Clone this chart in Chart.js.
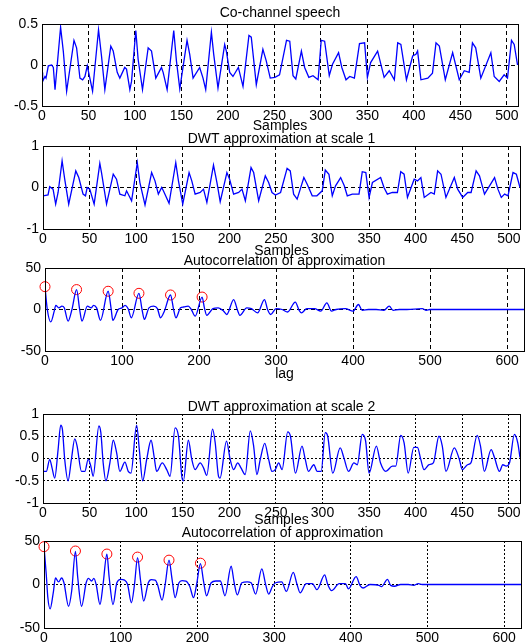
<!DOCTYPE html>
<html><head><meta charset="utf-8">
<script src="https://cdn.jsdelivr.net/npm/chart.js@4.4.1/dist/chart.umd.min.js"></script>
<style>
html,body{margin:0;padding:0;background:#fff;width:531px;height:642px;overflow:hidden;position:relative}
canvas{position:absolute;left:0}
</style></head><body>
<canvas id="c1"></canvas><canvas id="c2"></canvas><canvas id="c3"></canvas><canvas id="c4"></canvas><canvas id="c5"></canvas>
<script>
// ---------- data ----------
const titles = ['Co-channel speech','DWT approximation at scale 1','Autocorrelation of approximation','DWT approximation at scale 2','Autocorrelation of approximation'];
const xLabels = ['Samples','Samples','lag','Samples',''];
const sampleTicks = [0,50,100,150,200,250,300,350,400,450,500];
const lagTicks = [0,100,200,300,400,500,600];
const speechYTicks = [-0.5,0,0.5];
const approx1YTicks = [-1,0,1];
const approx2YTicks = [-1,-0.5,0,0.5,1];
const corrYTicks = [-50,0,50];

// [sample, value]
const speech = [[0,-0.09],[0.7,-0.2],[3.2,-0.14],[4.3,-0.16],[6.8,-0.01],[10.4,0],[12.2,-0.03],[14,-0.3],[20,0.46],[22.9,0.17],
[26.5,-0.32],[34.4,0.3],[37.2,0.21],[40.8,-0.16],[43.7,-0.18],[46.2,-0.14],[48.7,-0.01],[54.4,-0.32],[60.8,0.43],[64,0.11],
[67.6,-0.3],[74,0.23],[76.6,0.17],[80.9,-0.09],[83.7,-0.16],[89,-0.03],[90.9,-0.05],[94.5,-0.3],[96.3,-0.2],[100.9,0.42],
[103.4,0.07],[108.1,-0.3],[114.2,0.21],[117.8,0.17],[122.4,-0.16],[128.5,-0.03],[130.3,-0.09],[134.6,-0.3],[141.7,0.42],[144.6,0.05],
[148.2,-0.29],[156,0.3],[158.9,0.13],[162.5,-0.16],[169.6,-0.03],[173.2,-0.16],[176.1,-0.3],[182.2,0.4],[184.7,0.13],[189.3,-0.28],
[196.5,0.25],[198.3,0.17],[201.9,-0.09],[205.4,-0.14],[211.2,-0.03],[216.2,-0.26],[222.6,0.36],[225.1,0.34],[230.5,-0.24],[237.6,0.19],
[241.2,0.05],[245.5,-0.16],[250.5,-0.15],[255.5,-0.12],[263,0.3],[266.5,0.29],[270,-0.13],[273,-0.17],[279,0.17],[282.5,-0.03],
[287,-0.15],[291.5,-0.13],[297,-0.18],[300.3,0.3],[304,0.29],[309,-0.13],[312.5,0.01],[319,0.15],[322.5,-0.03],[327,-0.18],
[331,-0.14],[336,-0.16],[341.5,0.26],[347,0.27],[350,-0.15],[353.5,0.03],[361,0.17],[368,-0.15],[373.5,-0.07],[379,-0.18],
[382.6,0.27],[386,0.25],[392,-0.18],[398.7,0.11],[402.2,0.13],[404,0.17],[407.6,-0.18],[415,-0.16],[420,-0.1],[423.8,0.27],
[427.4,0.23],[433.8,-0.18],[441.7,0.15],[448.8,-0.18],[454.2,-0.07],[459.5,-0.09],[463,0.27],[466.5,0.21],[472,-0.16],[482.8,0.15],
[486.4,-0.14],[491.8,-0.2],[497.1,-0.12],[500.7,-0.16],[505,0.3],[507.9,0.25],[511.5,0]];

const approx1 = [[0,-0.2],[5.4,-0.18],[7.2,0.02],[10.8,-0.04],[13.6,-0.4],[16.2,-0.12],[20.5,0.64],[23.3,0.2],[27.6,-0.4],[35.2,0.4],
[38.4,0.24],[43,-0.16],[45.6,-0.2],[47.4,0],[50.2,-0.04],[54.9,-0.4],[61,0.58],[62.8,0.36],[68.2,-0.4],[75.4,0.32],
[78.9,0.2],[82.5,-0.16],[87.9,-0.2],[89.7,-0.08],[95.1,-0.32],[101.2,0.6],[104,0.12],[109.5,-0.42],[116.6,0.36],[120.2,0.16],
[123.8,-0.16],[127.4,0],[129.2,-0.08],[135.3,-0.38],[142.5,0.6],[145.4,0.16],[150,-0.4],[156.8,0.36],[159.7,0.16],[163.3,-0.16],
[168.7,-0.12],[172.3,-0.04],[175.9,-0.36],[183,0.54],[186.7,0.12],[190.2,-0.34],[197.4,0.36],[200.3,0.2],[204.6,-0.16],[210,-0.12],
[213.6,-0.04],[217.2,-0.32],[223.3,0.48],[226.1,0.36],[231.5,-0.32],[238.6,0.28],[242.2,0.12],[245.8,-0.12],[249.5,-0.18],[255,-0.12],
[262,0.46],[265.4,0.4],[269,-0.16],[272.8,-0.28],[280,0.24],[283.6,0.08],[289,-0.2],[294,-0.2],[299.7,-0.08],[303,0.42],
[306.9,0.32],[310.5,-0.2],[314,0.04],[319.5,0.24],[323.4,0.04],[326.6,-0.2],[332,-0.16],[339.2,-0.16],[342.7,0.38],[346.5,0.36],
[350,-0.24],[353.6,0.12],[362.4,0.24],[366,0],[369.6,-0.16],[375,-0.12],[380.4,-0.12],[384,0.38],[387.6,0.32],[391.2,-0.24],
[398.4,0.2],[402,0.16],[405.6,0.24],[409.2,-0.24],[416.4,-0.12],[420,-0.16],[423.6,0.4],[427.2,0.32],[432.5,-0.24],[441.5,0.24],
[445.1,-0.04],[450.5,-0.24],[455.9,-0.12],[459.5,-0.12],[464.9,0.4],[468.5,0.28],[473.9,-0.16],[484.7,0.24],[488.3,-0.04],[491.9,-0.24],
[495.5,-0.16],[499.1,-0.2],[504.5,0.36],[508.1,0.32],[512,0]];

const corr1 = [[0,27.5],[3,0],[7.5,-15],[12,-2],[14,5],[18,2],[22,4],[25,2],[30,-14],[35,0],
[41,24],[45,0],[48,-14],[55,4],[60,2],[63,5],[67,2],[72,-13],[82,22],[86,0],
[88,-13],[95,0],[100,2],[104,5],[108,1],[112,-10],[122,19.5],[126,0],[129,-12],[135,2],
[141,4],[146,1],[150,-10],[155,-2],[163,17.5],[167,0],[170,-10],[176,2],[180,3],[186,4],
[190,0],[195,-8],[204,15],[207,2],[210,-7],[218,1],[225,2],[232,-2],[236,-6],[245,12],
[250,-1],[253,-7],[262,2],[268,1],[276,-4],[285,12],[289,0],[293,-6],[300,1],[308,0],
[315,-3],[325,9],[330,-1],[333,-4],[340,1],[350,1],[358,-2],[366,8],[372,-2],[378,0],
[390,1],[400,-2],[407,6],[412,-1],[420,0],[430,0],[440,-1],[447,4],[452,-1],[460,0],
[470,0],[490,1],[495,-1],[500,0],[622,0]];
const corr1PeakLags = [0,41,82,122,163,204];
const corr1PeakValues = [27.5,24,22,19.5,17.5,15];

const approx2 = [[0,-0.29],[3.6,-0.29],[7.2,-0.02],[9.7,-0.21],[12.6,-0.44],[16.2,0.2],[19,0.75],[20.8,0.66],[23.3,-0.02],[26.9,-0.5],
[30.5,-0.02],[34.1,0.44],[36.6,0.28],[41.3,-0.29],[44.9,-0.29],[48.5,-0.02],[51.3,-0.17],[53.8,-0.4],[60,0.73],[62.1,0.58],
[64.6,-0.1],[67.5,-0.5],[71.8,-0.1],[75.4,0.41],[79,0.13],[82.5,-0.29],[87.9,-0.08],[91.5,-0.29],[94.4,-0.33],[100.5,0.75],
[103.4,0.2],[107,-0.5],[111.3,-0.02],[116,0.41],[119.2,0.05],[122,-0.29],[128,-0.1],[132.8,-0.25],[136.4,-0.4],[141.8,0.69],
[145.4,0.5],[149,-0.4],[150.7,-0.5],[156,0.41],[159.7,-0.02],[163.3,-0.25],[168.7,-0.1],[172.3,-0.21],[175.8,-0.38],[182,0.66],
[184.8,0.36],[188.4,-0.4],[190,-0.44],[197,0.39],[200.9,-0.02],[204.6,-0.25],[209,-0.1],[212.5,-0.21],[217,-0.36],[222.5,0.62],
[226.1,0.28],[229.6,-0.36],[233.2,-0.02],[238,0.34],[242.2,-0.02],[245.8,-0.29],[249.3,-0.25],[253,-0.1],[256.6,-0.25],[262.7,0.6],
[265.6,0.5],[271,-0.33],[278,0.28],[281.5,-0.02],[285,-0.29],[290.7,-0.14],[294.3,-0.29],[298.6,-0.29],[303,0.58],[305.6,0.5],
[311,-0.33],[319,0.24],[322.9,0.02],[328,-0.29],[333.7,-0.1],[337.3,-0.14],[342.7,0.54],[346.3,0.39],[350,-0.33],[357.8,0.28],
[362.3,-0.1],[368,-0.29],[375,-0.17],[378.6,-0.17],[384,0.52],[387.6,0.35],[392,-0.33],[398,0.25],[401.9,0.25],[405.5,-0.02],
[409,-0.25],[414.4,-0.14],[419,-0.1],[425,0.5],[428.6,0.28],[432.5,-0.29],[441.5,0.24],[446.9,-0.02],[450,-0.25],[455.7,-0.14],
[459.3,-0.1],[466,0.52],[469.6,0.28],[473.7,-0.29],[481,0.2],[484.6,0.02],[490,-0.29],[493.5,-0.14],[497.1,-0.17],[500.7,-0.1],
[506,0.54],[509.6,0.35],[512,0.02]];

const corr2 = [[0,43.5],[3,11],[5,-15],[8,-28],[12,-10],[15,7.5],[19,3],[23,7.5],[26,2],[32,-25],
[36,-8],[41,38],[44,8],[49,-25],[55,2],[58,7],[62,4],[65,7],[68,0],[73,-23],
[77,0],[82,35],[85,8],[90,-23],[95,2],[100,6],[105,5],[109,0],[114,-21],[118,0],
[122,31],[126,4],[130,-19],[136,2],[140,5.5],[145,5],[148,0],[154,-18],[158,0],[163,28],
[167,6],[171,-15],[176,2],[180,4.5],[185,4],[190,-2],[195,-15],[199,0],[204,24],[208,4],
[212,-13],[218,2],[224,4],[230,4],[236,-13],[244,21],[248,2],[252,-12],[258,2],[265,3],
[270,2],[276,-11],[284,18],[289,0],[293,-11],[298,-2],[302,2],[310,3],[316,-8],[325,14],
[330,0],[334,-9.5],[342,1],[350,1],[356,-6],[366,11],[370,0],[375,-7],[385,1],[393,1],
[397,-5],[407,9],[412,-1],[416,-4],[425,0],[437,-1],[440,-2.5],[448,6],[452,-1],[457,-2],
[465,0],[475,0],[482,-1],[488,1],[493,0],[500,0],[622,0]];
const corr2PeakLags = [0,41,82,122,163,204];
const corr2PeakValues = [43.5,38.5,35,31.5,28,24.5];

// ---------- rendering ----------
const FONT = "'Liberation Sans', Arial, sans-serif";
const framePlugin = {
  id: 'frame',
  afterDatasetsDraw(chart) {
    const {ctx, chartArea: a} = chart;
    ctx.save();
    ctx.setLineDash([]);
    ctx.strokeStyle = '#000';
    ctx.lineWidth = 1;
    ctx.strokeRect(Math.round(a.left) + 0.5, Math.round(a.top) + 0.5,
      Math.round(a.right) - Math.round(a.left), Math.round(a.bottom) - Math.round(a.top));
    ctx.restore();
  }
};

function makePanel(p) {
  const b = p.box;
  const canvasTop = b.titleY - 9;
  const titlePadBottom = Math.max(0, b.top - (b.titleY + 7));
  const canvasBottom = p.xLabel ? b.labelY + 8 : 642;
  const axisH = canvasBottom - b.bottom;
  const cv = document.getElementById(p.id);
  cv.width = 531; cv.height = canvasBottom - canvasTop;
  cv.style.top = canvasTop + 'px';
  cv.style.width = '531px'; cv.style.height = cv.height + 'px';
  const datasets = [{
    data: p.points.map(q => ({x: q[0], y: q[1]})),
    borderColor: '#0000ff', borderWidth: 1.3, pointRadius: 0, fill: false,
    tension: p.smooth ? 0.4 : 0,
    cubicInterpolationMode: p.smooth ? 'monotone' : 'default'
  }];
  if (p.peakLags) {
    datasets.push({
      data: p.peakLags.map((l, i) => ({x: l, y: p.peakValues[i]})),
      showLine: false, pointRadius: 5, pointHoverRadius: 5,
      pointBorderColor: '#ff0000', pointBackgroundColor: 'rgba(0,0,0,0)',
      pointBorderWidth: 1, clip: false
    });
  }
  const tickFont = {family: FONT, size: 14, lineHeight: 1};
  new Chart(cv, {
    type: 'line',
    data: {datasets},
    plugins: [framePlugin],
    options: {
      responsive: false, animation: false, devicePixelRatio: 1,
      layout: {padding: {left: 0, right: 531 - b.right, top: 0, bottom: 0}},
      plugins: {
        legend: {display: false}, tooltip: {enabled: false},
        title: {display: true, text: p.title, color: '#000', fullSize: false,
          font: {family: FONT, size: 14, weight: 'normal', lineHeight: 1},
          padding: {top: 2, bottom: titlePadBottom}}
      },
      scales: {
        x: {
          type: 'linear', min: 0, max: p.xMax,
          afterBuildTicks: s => { s.ticks = p.xTicks.map(v => ({value: v})); },
          afterFit: s => { s.height = axisH; },
          grid: {color: '#000', lineWidth: 1, drawTicks: false, tickLength: 0},
          border: {display: false, dash: p.dash},
          ticks: {color: '#000', font: tickFont, padding: 3, maxRotation: 0, autoSkip: false, callback: v => String(v)},
          title: {display: !!p.xLabel, text: p.xLabel, color: '#000', font: tickFont, padding: {top: 0, bottom: 1}}
        },
        y: {
          type: 'linear', min: p.yTicks[0], max: p.yTicks[p.yTicks.length - 1],
          afterBuildTicks: s => { s.ticks = p.yTicks.map(v => ({value: v})); },
          afterFit: s => { s.width = b.left; },
          grid: {color: '#000', lineWidth: 1, drawTicks: false, tickLength: 0},
          border: {display: false, dash: p.dash},
          ticks: {color: '#000', font: tickFont, padding: 4, autoSkip: false, callback: v => String(v)}
        }
      }
    }
  });
}

makePanel({id: 'c1', title: titles[0], xLabel: xLabels[0], points: speech, xMax: 512, xTicks: sampleTicks, yTicks: speechYTicks,
  smooth: false, dash: [4, 3], box: {left: 42, right: 518, top: 24, bottom: 106, titleY: 13, labelY: 126}});
makePanel({id: 'c2', title: titles[1], xLabel: xLabels[1], points: approx1, xMax: 512, xTicks: sampleTicks, yTicks: approx1YTicks,
  smooth: false, dash: [4, 3], box: {left: 43, right: 520, top: 146, bottom: 229, titleY: 139, labelY: 251}});
makePanel({id: 'c3', title: titles[2], xLabel: xLabels[2], points: corr1, xMax: 622, xTicks: lagTicks, yTicks: corrYTicks,
  peakLags: corr1PeakLags, peakValues: corr1PeakValues,
  smooth: true, dash: [4, 3], box: {left: 45, right: 524, top: 268, bottom: 351, titleY: 261, labelY: 374}});
makePanel({id: 'c4', title: titles[3], xLabel: xLabels[3], points: approx2, xMax: 512, xTicks: sampleTicks, yTicks: approx2YTicks,
  smooth: true, dash: [2, 2], box: {left: 43, right: 520, top: 414, bottom: 503, titleY: 407, labelY: 520}});
makePanel({id: 'c5', title: titles[4], xLabel: xLabels[4], points: corr2, xMax: 622, xTicks: lagTicks, yTicks: corrYTicks,
  peakLags: corr2PeakLags, peakValues: corr2PeakValues,
  smooth: true, dash: [2, 2], box: {left: 44, right: 521, top: 541, bottom: 628, titleY: 533, labelY: null}});
</script>
</body></html>
